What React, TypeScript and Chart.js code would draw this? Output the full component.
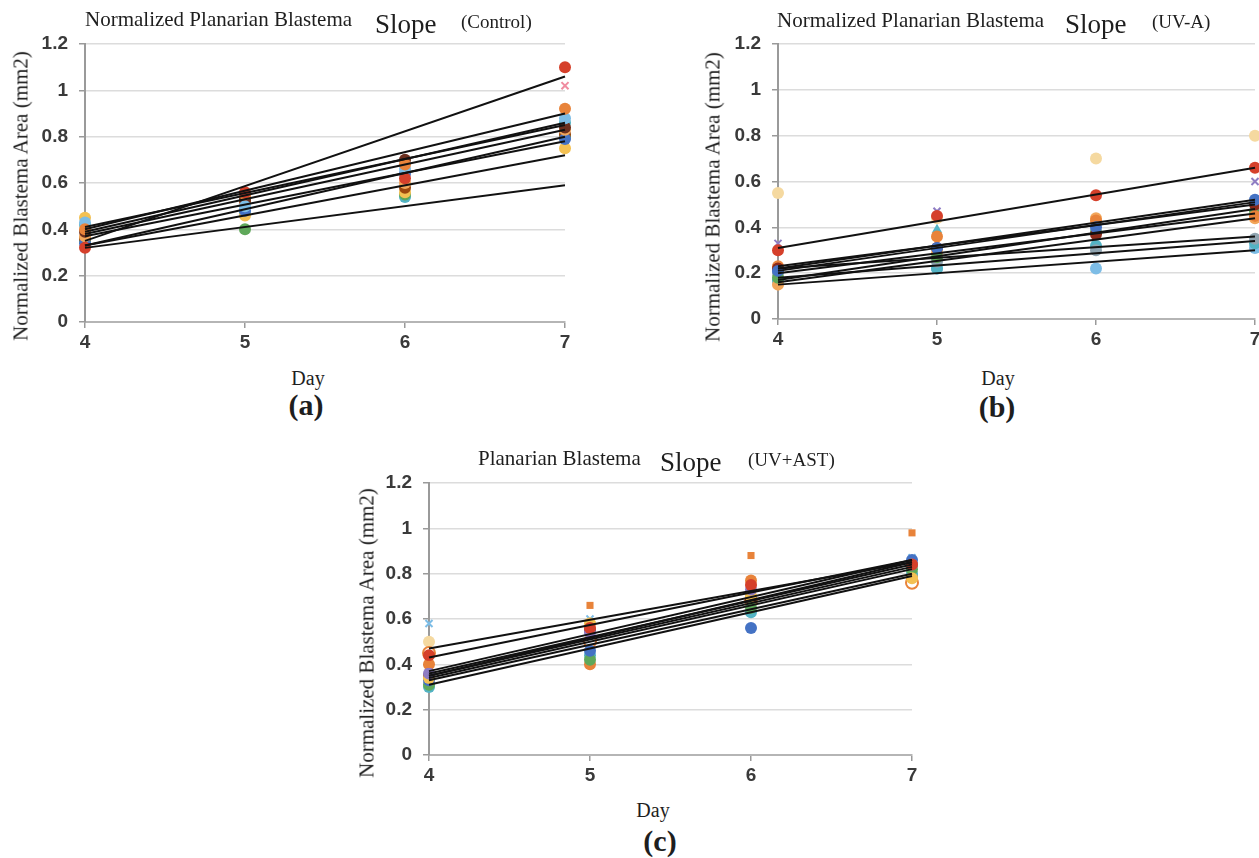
import React, { useEffect, useRef } from "react";
import { Chart, registerables } from "chart.js";

Chart.register(...registerables);

// ---------- shared axis data ----------
const days = [4, 5, 6, 7];
const trendDays = [4, 7];
const xTickLabels = ["4", "5", "6", "7"];
const yTickLabels = ["0", "0.2", "0.4", "0.6", "0.8", "1", "1.2"];

// ---------- (a) Control ----------
const controlS1 = [0.32, 0.56, 0.62, 1.1];
const controlS2 = [0.4, 0.55, 0.68, 0.92];
const controlS3 = [0.43, 0.5, 0.66, 0.88];
const controlS4 = [0.39, 0.53, 0.7, 0.84];
const controlS5 = [0.37, 0.54, 0.6, 0.83];
const controlS6 = [0.34, 0.48, 0.64, 0.79];
const controlS7 = [0.36, 0.52, 0.58, 0.81];
const controlS8 = [0.45, 0.46, 0.56, 0.75];
const controlS9 = [0.35, 0.4, 0.55, 0.8];
const controlS10 = [0.38, 0.51, 0.69, 1.02];
const controlS11 = [0.42, 0.47, 0.54, 0.86];
const controlTrendStart = [0.35, 0.4, 0.39, 0.41, 0.38, 0.33, 0.37, 0.33, 0.32, null, null];
const controlTrendEnd = [1.06, 0.9, 0.86, 0.85, 0.83, 0.8, 0.78, 0.72, 0.59, null, null];

// ---------- (b) UV-A ----------
const uvS1 = [0.3, 0.45, 0.54, 0.66];
const uvS2 = [0.21, 0.31, 0.4, 0.52];
const uvS3 = [0.22, 0.31, 0.37, 0.5];
const uvS4 = [0.23, 0.36, 0.43, 0.45];
const uvS5 = [0.18, 0.27, 0.38, 0.47];
const uvS6 = [0.19, 0.39, 0.42, 0.48];
const uvS7 = [0.15, 0.29, 0.44, 0.44];
const uvS8 = [0.2, 0.25, 0.3, 0.35];
const uvS9 = [0.17, 0.22, 0.32, 0.33];
const uvS10 = [0.16, 0.22, 0.22, 0.31];
const uvS11 = [0.55, 0.44, 0.7, 0.8];
const uvS12 = [0.33, 0.47, 0.41, 0.6];
const uvTrendStart = [0.31, 0.22, 0.21, 0.23, 0.17, 0.2, 0.16, 0.22, 0.18, 0.15, null, null];
const uvTrendEnd = [0.66, 0.52, 0.51, 0.5, 0.48, 0.46, 0.44, 0.36, 0.34, 0.3, null, null];

// ---------- (c) UV+AST ----------
const astS1 = [0.4, 0.66, 0.88, 0.98];
const astS2 = [0.44, 0.56, 0.75, 0.84];
const astS3 = [0.36, 0.54, 0.73, 0.84];
const astS4 = [0.34, 0.58, 0.7, 0.78];
const astS5 = [0.33, 0.46, 0.56, 0.86];
const astS6 = [0.31, 0.42, 0.65, 0.82];
const astS7 = [0.3, 0.44, 0.63, 0.8];
const astS8 = [0.35, 0.55, 0.69, 0.84];
const astS9 = [0.4, 0.4, 0.77, 0.79];
const astS10 = [0.45, 0.5, 0.68, 0.76];
const astS11 = [0.5, 0.58, 0.7, 0.8];
const astS12 = [0.58, 0.6, 0.72, 0.87];
const astTrendStart = [0.47, 0.43, 0.37, 0.36, 0.35, 0.34, 0.33, 0.35, 0.31, null, null, null];
const astTrendEnd = [0.85, 0.86, 0.86, 0.84, 0.85, 0.82, 0.8, 0.83, 0.79, null, null, null];

// ---------- styles ----------
const C = {
  red: "#D5402B",
  orange: "#E8833A",
  sky: "#7DBDE6",
  dark: "#6B2E1E",
  lightOrange: "#F2A65A",
  blue: "#4472C4",
  brown: "#9E480E",
  yellow: "#F4C152",
  green: "#5FA85A",
  teal: "#53B3C4",
  pink: "#F08CA0",
  purple: "#8E7CC3",
  pale: "#F5D9A0",
  gray: "#8FA4B0",
  darkred: "#8B2A1A",
};

type SeriesStyle = { color: string; shape?: string; open?: boolean };

type PanelSpec = {
  left: number;
  top: number;
  width: number;
  height: number;
  yAxisWidth: number;
  padTop: number;
  padRight: number;
  xAxisHeight: number;
  series: number[][];
  styles: SeriesStyle[];
  trendStart: (number | null)[];
  trendEnd: (number | null)[];
};

const panels: PanelSpec[] = [
  {
    left: 0, top: 0, width: 600, height: 362,
    yAxisWidth: 85, padTop: 44, padRight: 35, xAxisHeight: 40,
    series: [controlS1, controlS2, controlS3, controlS4, controlS5, controlS6, controlS7, controlS8, controlS9, controlS10, controlS11],
    styles: [
      { color: C.red }, { color: C.orange }, { color: C.sky }, { color: C.dark }, { color: C.lightOrange },
      { color: C.blue }, { color: C.brown }, { color: C.yellow }, { color: C.green },
      { color: C.pink, shape: "crossRot" }, { color: C.teal },
    ],
    trendStart: controlTrendStart,
    trendEnd: controlTrendEnd,
  },
  {
    left: 690, top: 0, width: 600, height: 359,
    yAxisWidth: 88, padTop: 44, padRight: 35, xAxisHeight: 40,
    series: [uvS1, uvS2, uvS3, uvS4, uvS5, uvS6, uvS7, uvS8, uvS9, uvS10, uvS11, uvS12],
    styles: [
      { color: C.red }, { color: C.blue }, { color: C.darkred }, { color: C.orange }, { color: C.green },
      { color: C.teal, shape: "triangle" }, { color: C.lightOrange }, { color: C.gray }, { color: C.teal },
      { color: C.sky }, { color: C.pale }, { color: C.purple, shape: "crossRot" },
    ],
    trendStart: uvTrendStart,
    trendEnd: uvTrendEnd,
  },
  {
    left: 340, top: 440, width: 600, height: 355,
    yAxisWidth: 89, padTop: 43, padRight: 28, xAxisHeight: 40,
    series: [astS1, astS2, astS3, astS4, astS5, astS6, astS7, astS8, astS9, astS10, astS11, astS12],
    styles: [
      { color: C.orange, shape: "rect" }, { color: C.red }, { color: C.purple }, { color: C.yellow },
      { color: C.blue }, { color: C.green }, { color: C.teal }, { color: C.darkred }, { color: C.orange },
      { color: C.orange, open: true }, { color: C.pale }, { color: C.sky, shape: "crossRot" },
    ],
    trendStart: astTrendStart,
    trendEnd: astTrendEnd,
  },
];

function ChartPanel({ spec }: { spec: PanelSpec }) {
  const ref = useRef<HTMLCanvasElement | null>(null);
  useEffect(() => {
    if (!ref.current) return;
    const datasets: any[] = [];
    spec.series.forEach((vals, i) => {
      const st = spec.styles[i];
      datasets.push({
        type: "scatter",
        data: days.map((d, k) => ({ x: d, y: vals[k] })),
        pointStyle: st.shape || "circle",
        pointRadius: st.shape === "crossRot" ? 5 : st.shape === "rect" ? 5 : 6,
        backgroundColor: st.open ? "#ffffff" : st.color,
        borderColor: st.color,
        borderWidth: st.open ? 2 : st.shape === "crossRot" ? 2 : 0,
        order: 2,
        clip: false,
      });
    });
    spec.series.forEach((_, i) => {
      const s = spec.trendStart[i];
      const e = spec.trendEnd[i];
      if (s == null || e == null) return;
      datasets.push({
        type: "line",
        data: [
          { x: trendDays[0], y: s },
          { x: trendDays[1], y: e },
        ],
        borderColor: "#111111",
        borderWidth: 2,
        pointRadius: 0,
        fill: false,
        order: 1,
        clip: false,
      });
    });
    const tickFont = { family: "'Liberation Sans', Arial, sans-serif", size: 19, weight: "bold" };
    const chart = new Chart(ref.current, {
      type: "scatter",
      data: { datasets },
      options: {
        animation: false,
        responsive: false,
        devicePixelRatio: 1,
        events: [],
        layout: { padding: { top: spec.padTop, right: spec.padRight, left: 0, bottom: 0 } },
        plugins: { legend: { display: false }, tooltip: { enabled: false }, title: { display: false } },
        scales: {
          x: {
            type: "linear",
            min: 4,
            max: 7,
            afterFit: (scale: any) => {
              scale.height = spec.xAxisHeight;
            },
            afterBuildTicks: (scale: any) => {
              scale.ticks = days.map((d) => ({ value: d }));
            },
            ticks: {
              font: tickFont,
              color: "#3a3a3a",
              padding: 3,
              maxRotation: 0,
              callback: (_v: any, idx: number) => xTickLabels[idx],
            },
            grid: {
              drawOnChartArea: false,
              drawTicks: true,
              tickLength: 6,
              tickColor: "#9a9a9a",
              lineWidth: 1.5,
            },
            border: { display: true, color: "#b5b5b5", width: 2 },
          },
          y: {
            type: "linear",
            min: 0,
            max: 1.2,
            afterFit: (scale: any) => {
              scale.width = spec.yAxisWidth;
            },
            afterBuildTicks: (scale: any) => {
              scale.ticks = yTickLabels.map((t) => ({ value: parseFloat(t) }));
            },
            ticks: {
              font: tickFont,
              color: "#3a3a3a",
              padding: 11,
              callback: (_v: any, idx: number) => yTickLabels[idx],
            },
            grid: {
              color: "#dcdcdc",
              lineWidth: 1.5,
              drawTicks: true,
              tickLength: 6,
              tickColor: "#9a9a9a",
            },
            border: { display: true, color: "#9a9a9a", width: 2 },
          },
        },
      } as any,
    });
    return () => chart.destroy();
  }, [spec]);
  return (
    <canvas
      ref={ref}
      width={spec.width}
      height={spec.height}
      style={{ position: "absolute", left: spec.left, top: spec.top, width: spec.width, height: spec.height }}
    />
  );
}

const SERIF = "'Liberation Serif', 'Times New Roman', serif";

function Txt({
  x, baseline, size, text, bold, center,
}: { x: number; baseline: number; size: number; text: string; bold?: boolean; center?: boolean }) {
  return (
    <div
      style={{
        position: "absolute",
        left: x,
        top: baseline - 0.8375 * size,
        fontFamily: SERIF,
        fontSize: size,
        lineHeight: `${size}px`,
        fontWeight: bold ? 700 : 400,
        color: "#1e1e1e",
        whiteSpace: "nowrap",
        transform: center ? "translateX(-50%)" : undefined,
      }}
    >
      {text}
    </div>
  );
}

function VTxt({ cx, cy, size, text }: { cx: number; cy: number; size: number; text: string }) {
  return (
    <div
      style={{
        position: "absolute",
        left: cx,
        top: cy,
        fontFamily: SERIF,
        fontSize: size,
        lineHeight: `${size}px`,
        color: "#1e1e1e",
        whiteSpace: "nowrap",
        transform: "translate(-50%, -50%) rotate(-90deg)",
      }}
    >
      {text}
    </div>
  );
}

export default function App() {
  return (
    <div
      style={{
        position: "absolute",
        left: 0,
        top: 0,
        width: 1259,
        height: 858,
        overflow: "hidden",
        background: "#ffffff",
      }}
    >
      {panels.map((p, i) => (
        <ChartPanel key={i} spec={p} />
      ))}

      {/* (a) */}
      <Txt x={85} baseline={27} size={21} text="Normalized Planarian Blastema" />
      <Txt x={375} baseline={34} size={27} text="Slope" />
      <Txt x={461} baseline={28} size={19} text="(Control)" />
      <VTxt cx={21} cy={196} size={21} text="Normalized Blastema Area (mm2)" />
      <Txt x={308} baseline={385} size={20} text="Day" center />
      <Txt x={306} baseline={415} size={30} text="(a)" bold center />

      {/* (b) */}
      <Txt x={777} baseline={28} size={21} text="Normalized Planarian Blastema" />
      <Txt x={1065} baseline={34} size={27} text="Slope" />
      <Txt x={1152} baseline={28} size={19} text="(UV-A)" />
      <VTxt cx={713} cy={197} size={21} text="Normalized Blastema Area (mm2)" />
      <Txt x={998} baseline={385} size={20} text="Day" center />
      <Txt x={997} baseline={417} size={30} text="(b)" bold center />

      {/* (c) */}
      <Txt x={478} baseline={466} size={21} text="Planarian Blastema" />
      <Txt x={660} baseline={472} size={27} text="Slope" />
      <Txt x={748} baseline={466} size={19} text="(UV+AST)" />
      <VTxt cx={367} cy={633} size={21} text="Normalized Blastema Area (mm2)" />
      <Txt x={653} baseline={817} size={20} text="Day" center />
      <Txt x={660} baseline={851} size={30} text="(c)" bold center />
    </div>
  );
}
